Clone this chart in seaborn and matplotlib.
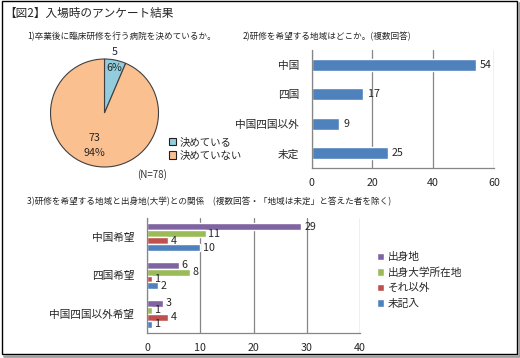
import matplotlib
matplotlib.use("Agg")
import matplotlib.pyplot as plt
import matplotlib.patches as mpatches
from matplotlib.lines import Line2D
import seaborn as sns
import pandas as pd
import numpy as np

# 1) 卒業後に臨床研修を行う病院を決めているか
pie_labels = ["決めている", "決めていない"]
pie_counts = [5, 73]

# 2) 研修を希望する地域
area_labels = ["中国", "四国", "中国四国以外", "未定"]
area_counts = [54, 17, 9, 25]

# 3) 希望地域と出身地(大学)の関係
hope_labels = ["中国希望", "四国希望", "中国四国以外希望"]
origin_labels = ["出身地", "出身大学所在地", "それ以外", "未記入"]
origin_home = [29, 6, 3]
origin_univ = [11, 8, 1]
origin_other = [4, 1, 4]
origin_none = [10, 2, 1]

sns.set_style("white")
plt.rcParams['font.family'] = ['Noto Sans CJK JP', 'DejaVu Sans']

W, H = 520, 358
GRID = '#868686'
fig = plt.figure(figsize=(5.2, 3.58), dpi=100)


# ピクセル座標 -> figure座標
def box(x0, y0, x1, y1):
    return [x0 / W, 1 - y1 / H, (x1 - x0) / W, (y1 - y0) / H]


def style_bar_axes(ax, n_cat):
    ax.set_ylim(n_cat - 0.5, -0.5)
    ax.xaxis.grid(True, color=GRID, lw=0.9)
    ax.yaxis.grid(False)
    for s in ['top', 'right']:
        ax.spines[s].set_visible(False)
    for s in ['left', 'bottom']:
        ax.spines[s].set_color(GRID)
        ax.spines[s].set_linewidth(0.9)
    ax.set_yticks(np.arange(-0.5, n_cat, 1), minor=True)
    ax.tick_params(axis='y', which='minor', length=4, color=GRID, direction='out')
    ax.tick_params(axis='y', which='major', length=0, pad=9, labelsize=7.7)
    ax.tick_params(axis='x', length=4, color=GRID, direction='out', pad=3, labelsize=7.7)
    ax.set_xlabel('')
    ax.set_ylabel('')


# タイトル・見出し
fig.text(4 / W, 1 - 13 / H, "【図2】入場時のアンケート結果", fontsize=8.4, va='center')
fig.text(27 / W, 1 - 37 / H, "1)卒業後に臨床研修を行う病院を決めているか。", fontsize=6.2, va='center')
fig.text(243 / W, 1 - 37 / H, "2)研修を希望する地域はどこか。(複数回答)", fontsize=6.2, va='center')
fig.text(27 / W, 1 - 201 / H,
         "3)研修を希望する地域と出身地(大学)との関係　(複数回答・「地域は未定」と答えた者を除く)",
         fontsize=6.2, va='center')

# 円グラフ
ax1 = fig.add_axes(box(50.5, 59, 158.5, 167))
pie_colors = ['#93CDDD', '#FAC090']
ax1.pie(pie_counts, colors=pie_colors, startangle=90, counterclock=False,
        wedgeprops=dict(edgecolor='#404040', linewidth=0.8))
ax1.set_xlim(-1, 1)
ax1.set_ylim(-1, 1)
total = sum(pie_counts)
pcts = [round(c / total * 100) for c in pie_counts]
ax1.text(0.18, 1.13, str(pie_counts[0]), ha='center', va='center', fontsize=7.7, color='#202050')
ax1.text(0.18, 0.84, f"{pcts[0]}%", ha='center', va='center', fontsize=7.7)
ax1.text(-0.19, -0.46, str(pie_counts[1]), ha='center', va='center', fontsize=7.7)
ax1.text(-0.18, -0.74, f"{pcts[1]}%", ha='center', va='center', fontsize=7.7)

pie_handles = [mpatches.Patch(facecolor=c, edgecolor='#202020', lw=0.8) for c in pie_colors]
fig.legend(pie_handles, pie_labels, loc='upper left', bbox_to_anchor=(169 / W, 1 - 137 / H),
           frameon=False, fontsize=7.5, handlelength=0.7, handleheight=0.7,
           handletextpad=0.3, labelspacing=0.35, borderpad=0, borderaxespad=0)
fig.text(137 / W, 1 - 175 / H, f"(N={total})", fontsize=7, va='center', color='#333333')

# 希望地域の棒グラフ
ax2 = fig.add_axes(box(311.7, 50, 494, 168))
sns.barplot(x=area_counts, y=area_labels, orient='h', color='#4F81BD',
            width=0.41, saturation=1, ax=ax2)
ax2.set_xlim(0, 60)
ax2.set_xticks([0, 20, 40, 60])
style_bar_axes(ax2, len(area_labels))
ax2.bar_label(ax2.containers[0], padding=3, fontsize=7.7)

# 希望地域と出身地の関係
df3 = pd.DataFrame({
    'hope': hope_labels * 4,
    'origin': np.repeat(origin_labels, len(hope_labels)),
    'count': origin_home + origin_univ + origin_other + origin_none,
})
origin_colors = ['#8064A2', '#9BBB59', '#C0504D', '#4F81BD']
ax3 = fig.add_axes(box(147, 218, 360, 333))
sns.barplot(data=df3, x='count', y='hope', hue='origin', hue_order=origin_labels,
            palette=origin_colors, orient='h', width=0.73, saturation=1,
            legend=False, ax=ax3)
ax3.set_xlim(0, 40)
ax3.set_xticks([0, 10, 20, 30, 40])
style_bar_axes(ax3, len(hope_labels))
for cont in ax3.containers:
    ax3.bar_label(cont, padding=2, fontsize=7.7)

org_handles = [mpatches.Patch(facecolor=c) for c in origin_colors]
fig.legend(org_handles, origin_labels, loc='upper left', bbox_to_anchor=(377 / W, 1 - 252 / H),
           frameon=False, fontsize=7.7, handlelength=0.7, handleheight=0.7,
           handletextpad=0.3, labelspacing=0.5, borderpad=0, borderaxespad=0)

# 外枠と影
fig.patches.append(mpatches.Rectangle((1.5 / W, 1 - 354 / H), 515.5 / W, 353.5 / H,
                                      transform=fig.transFigure, fill=False,
                                      edgecolor='black', lw=1))
fig.lines.append(Line2D([4 / W, 519 / W, 519 / W], [1 - 356 / H, 1 - 356 / H, 1 - 3 / H],
                        transform=fig.transFigure, color='#a0a0a0', lw=2))

fig.savefig('out.png', dpi=100)
